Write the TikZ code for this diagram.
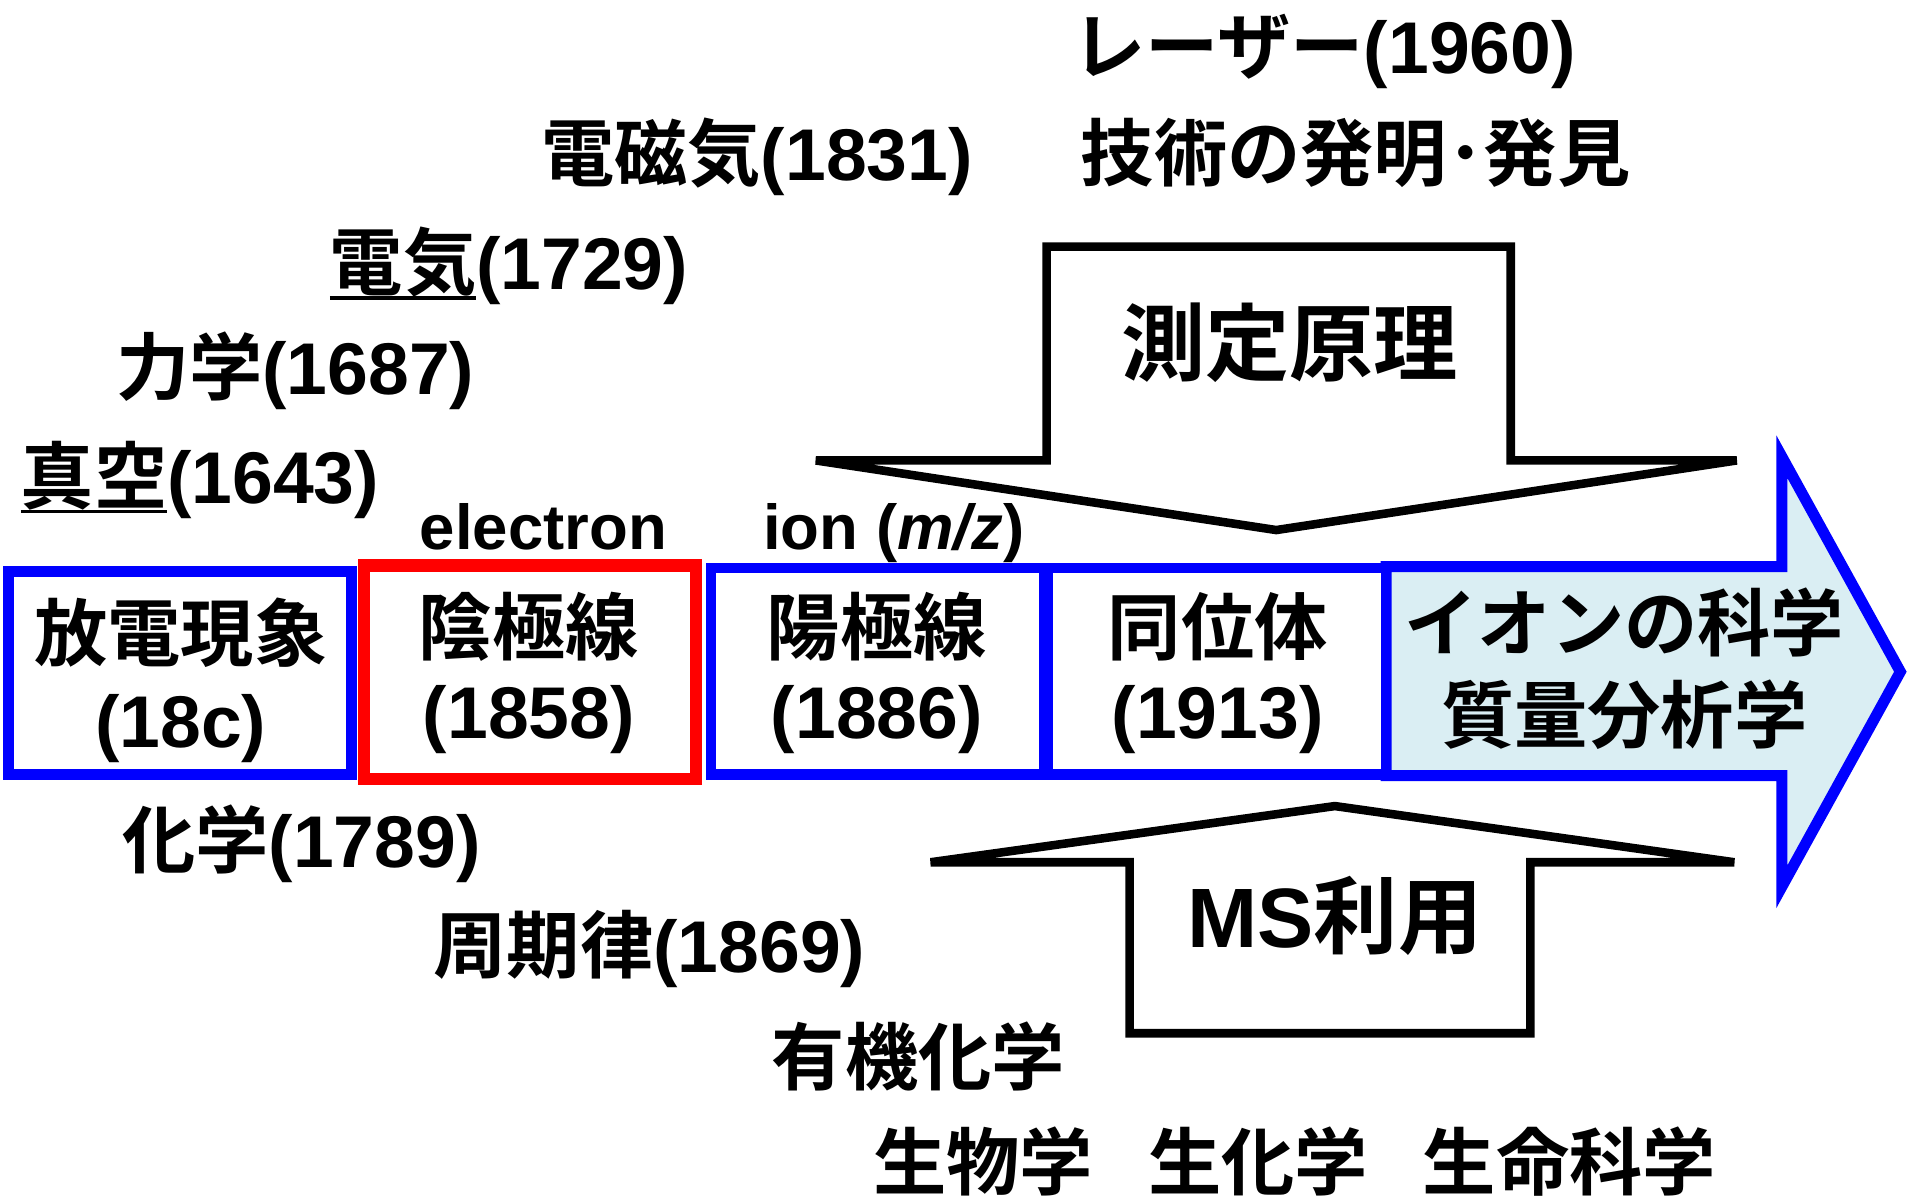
\documentclass[tikz,border=0pt]{standalone}
\usepackage{fontspec}
\setmainfont{Liberation Sans}
\newfontfamily\jpfont{Noto Sans CJK JP}[BoldFont={* Bold}]
\newcommand\J[1]{{\jpfont #1}}
\definecolor{arrowfill}{HTML}{DAEEF3}
\begin{document}
\begin{tikzpicture}[x=0.5pt,y=-0.5pt,
  every node/.style={inner sep=0pt, outer sep=0pt},
  t30/.style={font=\fontsize{30}{36}\selectfont\bfseries},
  t26/.style={font=\fontsize{26}{31}\selectfont\bfseries},
  t34/.style={font=\fontsize{34.5}{40}\selectfont\bfseries},
  bluebox/.style={draw=blue, line width=4.3pt, fill=white, line join=miter},
  redbox/.style={draw=red, line width=5pt, fill=white, line join=miter},
  bigarrow/.style={draw=blue, line width=4.5pt, fill=arrowfill, line join=miter},
  blockarrow/.style={draw=black, line width=3.5pt, fill=white, line join=miter},
  uline/.style={line width=1.4pt}]
\useasboundingbox (0,0) rectangle (1568,980);

% big arrow (ion science)
\draw[bigarrow] (1135,464) -- (1459,464) -- (1459,374) -- (1556,550) -- (1459,726) -- (1459,635) -- (1135,635) -- cycle;

% boxes
\node[bluebox, minimum width=140.5pt, minimum height=83pt] (b1) at (147.5,551) {};
\node[redbox, minimum width=136pt, minimum height=87.5pt] (b2) at (434,550.5) {};
\node[bluebox, minimum width=136.5pt, minimum height=84.5pt] (b3) at (718.5,549.5) {};
\node[bluebox, minimum width=138.5pt, minimum height=84.5pt] (b4) at (996.5,549.5) {};

\node[t30, anchor=base] (b1a) at (148,541) {\J{放電現象}};
\node[t30, anchor=base] (b1b) at (148,612) {(18c)};
\node[t30, anchor=base] (b2a) at (433,536) {\J{陰極線}};
\node[t30, anchor=base] (b2b) at (433,605) {(1858)};
\node[t30, anchor=base] (b3a) at (718,536) {\J{陽極線}};
\node[t30, anchor=base] (b3b) at (718,605) {(1886)};
\node[t30, anchor=base] (b4a) at (997,536) {\J{同位体}};
\node[t30, anchor=base] (b4b) at (997,605) {(1913)};
\node[t30, anchor=base] (b5a) at (1330,533) {\J{イオンの科学}};
\node[t30, anchor=base] (b5b) at (1330,608) {\J{質量分析学}};

% block arrows
\draw[blockarrow] (857,202) -- (1237,202) -- (1237,377) -- (1422,377) -- (1045,434) -- (668,377) -- (857,377) -- cycle;
\draw[blockarrow] (925,846) -- (925,706) -- (762,706) -- (1093,660) -- (1420,706) -- (1253,706) -- (1253,846) -- cycle;
\node[t34, anchor=base] (sokutei) at (1056,307) {\J{測定原理}};
\node[t34, anchor=base] (msriyo) at (1093,776) {MS\J{利用}};

% upper labels
\node[t30, anchor=base west] (laser) at (878,60) {\J{レーザー}(1960)};
\node[t30, anchor=base west] (gijutsu) at (885,148) {\J{技術の発明･発見}};
\node[t30, anchor=base west] (denjiki) at (443,148) {\J{電磁気}(1831)};
\node[t30, anchor=base west] (denki) at (270,237) {\J{電気}};
\node[t30, anchor=base west] (denkiy) at (denki.base east) {(1729)};
\draw[uline] ([yshift=-3.5pt]denki.base west) -- ([yshift=-3.5pt]denki.base east);
\node[t30, anchor=base west] (rikigaku) at (95,323) {\J{力学}(1687)};
\node[t30, anchor=base west] (shinku) at (17,412) {\J{真空}};
\node[t30, anchor=base west] (shinkuy) at (shinku.base east) {(1643)};
\draw[uline] ([yshift=-3.5pt]shinku.base west) -- ([yshift=-3.5pt]shinku.base east);
\node[t26, anchor=base] (electron) at (445,450) {electron};
\node[t26, anchor=base west] (ion) at (625,450) {ion (\textit{m/z})};

% lower labels
\node[t30, anchor=base west] (kagaku) at (100,710) {\J{化学}(1789)};
\node[t30, anchor=base west] (shuki) at (355,796) {\J{周期律}(1869)};
\node[t30, anchor=base west] (yuki) at (632,888) {\J{有機化学}};
\node[t30, anchor=base west] (seibutsu) at (715,974) {\J{生物学}};
\node[t30, anchor=base west] (seika) at (940,974) {\J{生化学}};
\node[t30, anchor=base west] (seimei) at (1165,974) {\J{生命科学}};
\end{tikzpicture}
\end{document}
